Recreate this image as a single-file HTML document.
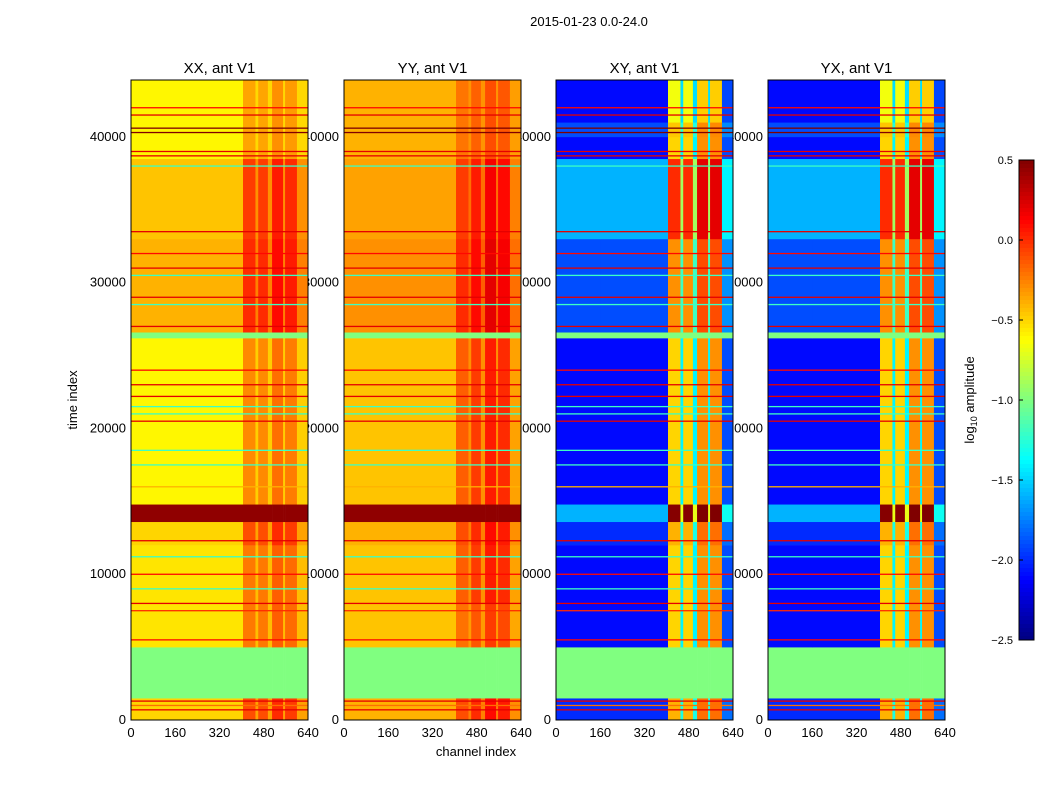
<!DOCTYPE html>
<html><head><meta charset="utf-8">
<style>
body{margin:0;background:#fff;}
svg text{font-family:"Liberation Sans",sans-serif;fill:#000;}
</style></head>
<body>
<svg id="fig" width="1050" height="800" xmlns="http://www.w3.org/2000/svg">
<rect width="1050" height="800" fill="#fff"/>
<text x="589" y="26" font-size="13" text-anchor="middle">2015-01-23 0.0-24.0</text>
<text x="476" y="756" font-size="13" text-anchor="middle">channel index</text>
<text transform="translate(77,400) rotate(-90)" font-size="13" text-anchor="middle">time index</text>
<text transform="translate(974,400) rotate(-90)" font-size="13" text-anchor="middle">log<tspan font-size="9" dy="3">10</tspan><tspan dy="-3"> amplitude</tspan></text>
<g id="labels"></g>
<g id="panels"></g>
<g id="cbar"></g>
</svg>
<script>
// ---- data ----
const panelTitles = ["XX, ant V1","YY, ant V1","XY, ant V1","YX, ant V1"];
const tBreaks = [0,1500,5000,8000,12000,13600,14800,20000,26200,26600,33000,38500,40000,41000,43900];
const chBreaks = [0,160,405,450,460,495,510,550,557,600,640];
const xxRowBase = [-0.5,-1.0,-0.55,-0.55,-0.5,0.45,-0.6,-0.6,-1.0,-0.4,-0.45,-0.6,-0.6,-0.6];
const xxRowMod  = [0.5,0,0.4,0.4,0.5,0,0.4,0.4,0,0.5,0.5,0.3,0.3,0.3];
const xxColBoost = [0,0,0.8,0.3,0.8,0.3,1.0,0.3,0.9,0.3];
const yyRowBase = [-0.4,-1.0,-0.45,-0.45,-0.4,0.45,-0.45,-0.45,-1.0,-0.3,-0.35,-0.4,-0.4,-0.4];
const yyRowMod  = [0.5,0,0.4,0.5,0.5,0,0.5,0.5,0,0.5,0.5,0.3,0.3,0.3];
const yyColBoost = [0,0,0.6,0.3,0.8,0.3,1.0,0.3,0.9,0.2];
const xyRowBase = [-2.0,-1.0,-2.1,-2.1,-2.0,-1.6,-2.1,-2.1,-1.0,-1.9,-1.6,-2.1,-1.9,-2.1];
const xyRowMod  = [1,0,1,1,1,1.3,1,1,0,1,1,1,0.9,0.9];
const xyColBoost = [0,0,1.6,0.7,1.6,0.7,1.8,0.7,1.8,0.2];
const yxRowBase = [-2.0,-1.0,-2.1,-2.1,-2.0,-1.6,-2.1,-2.1,-1.0,-1.9,-1.6,-2.1,-1.9,-2.1];
const yxRowMod  = [1,0,1,1,1,1.3,1,1,0,1,1,1,0.9,0.9];
const yxColBoost = [0,0,1.6,0.7,1.6,0.7,1.8,0.7,1.8,0.2];
const lineTimes = [700,1000,1300,5500,7500,8000,9000,10000,11200,12300,16000,17500,18500,20500,21000,21500,22200,23000,24000,27000,28500,29000,30500,31000,32000,33500,38000,38700,39000,40300,40600,41500,42000];
const lineVals  = [0.2,-0.2,0.2,0.1,0.0,0.2,-1.2,0.1,-1.2,0.2,-0.4,-1.2,-1.2,0.2,-1.2,-1.2,0.2,0.2,0.1,0.2,-1.2,0.2,-1.2,0.2,0.1,0.2,-1.2,0.2,0.2,0.5,0.5,0.2,0.1];
const xTicks = [0,160,320,480,640];
const yTicks = [0,10000,20000,30000,40000];
const cbTicks = [0.5,0.0,-0.5,-1.0,-1.5,-2.0,-2.5];
// ---- layout ----
const panelX = [131,344,556,768], PW=177, PY0=80, PY1=720, TMAX=43900, CHMAX=640;
const VMIN=-2.5, VMAX=0.5;
const NS="http://www.w3.org/2000/svg";
function jet(v){let t=Math.max(0,Math.min(1,(v-VMIN)/(VMAX-VMIN)));
 const c=x=>Math.round(255*Math.max(0,Math.min(1,x)));
 return `rgb(${c(1.5-Math.abs(4*t-3))},${c(1.5-Math.abs(4*t-2))},${c(1.5-Math.abs(4*t-1))})`;}
function mk(tag,attrs,parent){const e=document.createElementNS(NS,tag);for(const k in attrs)e.setAttribute(k,attrs[k]);parent.appendChild(e);return e;}
const ty=t=>PY1-t/TMAX*(PY1-PY0);
const data=[[xxRowBase,xxRowMod,xxColBoost],[yyRowBase,yyRowMod,yyColBoost],[xyRowBase,xyRowMod,xyColBoost],[yxRowBase,yxRowMod,yxColBoost]];
const labels=document.getElementById('labels'), panels=document.getElementById('panels');
panelX.forEach((x0,p)=>{
 const cx=ch=>x0+ch/CHMAX*PW;
 yTicks.forEach(t=>{const e=mk('text',{x:x0-5,y:ty(t)+4,'font-size':13,'text-anchor':'end'},labels);e.textContent=t;
  
  });
 xTicks.forEach(c=>{const e=mk('text',{x:cx(c),y:737,'font-size':13,'text-anchor':'middle'},labels);e.textContent=c;
  
  });
 const tt=mk('text',{x:x0+PW/2,y:73,'font-size':15,'text-anchor':'middle'},labels);tt.textContent=panelTitles[p];
 
 
 const g=mk('g',{},panels);
 
 
 const [rb,rm,cb]=data[p];
 for(let r=0;r<tBreaks.length-1;r++)for(let c=0;c<chBreaks.length-1;c++){
  const y1=ty(tBreaks[r+1]),y2=ty(tBreaks[r]);
  const e=mk('rect',{x:cx(chBreaks[c]),y:y1,width:cx(chBreaks[c+1])-cx(chBreaks[c])+0.3,height:y2-y1+0.3,fill:jet(rb[r]+rm[r]*cb[c])},g);
  
  }
 lineTimes.forEach((t,i)=>{const e=mk('rect',{x:x0,y:ty(t)-0.6,width:PW,height:1.3,fill:jet(lineVals[i])},g);
  
  });
 const fr=mk('rect',{x:x0,y:PY0,width:PW,height:PY1-PY0,fill:'none',stroke:'#000','stroke-width':1},g);
 
 
});
// colorbar
const cbg=document.getElementById('cbar');
const CBX=1019,CBW=15,CBY0=160,CBY1=640;
for(let i=0;i<120;i++){const v=VMAX-(i+0.5)/120*(VMAX-VMIN);
 const e=mk('rect',{x:CBX,y:CBY0+i*(CBY1-CBY0)/120,width:CBW,height:(CBY1-CBY0)/120+0.5,fill:jet(v)},cbg);
 
 }
const cf=mk('rect',{x:CBX,y:CBY0,width:CBW,height:CBY1-CBY0,fill:'none',stroke:'#000'},cbg);


cbTicks.forEach(v=>{const y=CBY0+(VMAX-v)/(VMAX-VMIN)*(CBY1-CBY0);
 const e=mk('text',{x:1013,y:y+4,'font-size':11,'text-anchor':'end'},cbg);e.textContent=v.toFixed(1).replace('-','\u2212');
 
 
 const tk=mk('line',{x1:CBX,x2:CBX+4,y1:y,y2:y,stroke:'#000'},cbg);
 
 });
</script>
</body></html>
